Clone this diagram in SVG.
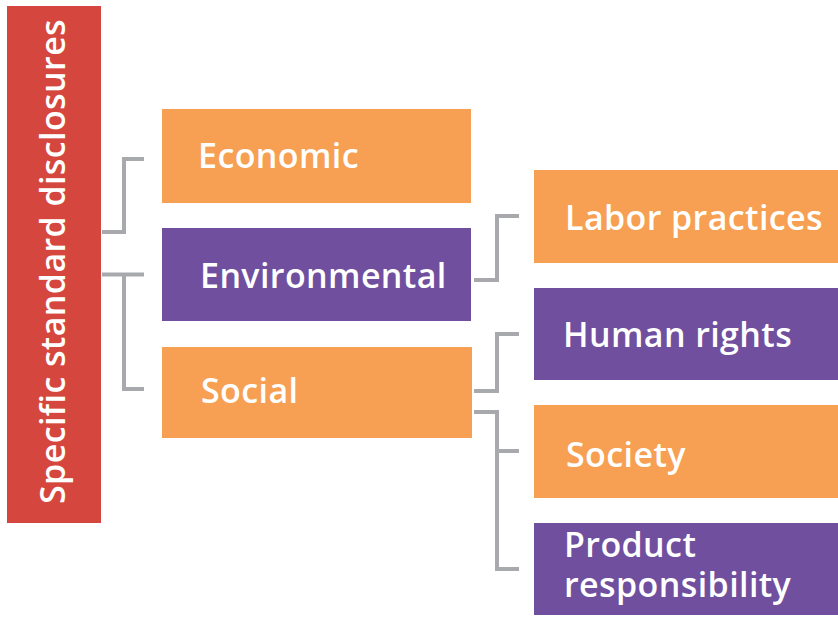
<svg xmlns="http://www.w3.org/2000/svg" width="838" height="617" viewBox="0 0 838 617">
<style>
.t{font-family:"Open Sans","Liberation Sans",sans-serif;font-weight:600;font-size:34px;letter-spacing:0.4px;fill:#ffffff}
.o{fill:#f79f53}
.p{fill:#704f9f}
.r{fill:#d5473e}
.c{fill:none;stroke:#a7a9ac;stroke-width:4}
</style>
<rect width="838" height="617" fill="#ffffff"/>
<g id="root">
<rect class="r" x="7" y="6" width="94" height="517"/>
<text class="t" transform="translate(65,504) rotate(-90)">Specific standard disclosures</text>
</g>
<g id="economic">
<rect class="o" x="162" y="109" width="309" height="94"/>
<text class="t" x="198" y="168">Economic</text>
</g>
<g id="environmental">
<rect class="p" x="162" y="228" width="309" height="93"/>
<text class="t" x="200" y="288">Environmental</text>
</g>
<g id="social">
<rect class="o" x="162" y="347" width="310" height="91"/>
<text class="t" x="201" y="403">Social</text>
</g>
<g id="labor">
<rect class="o" x="534" y="170" width="304" height="93"/>
<text class="t" x="565" y="230">Labor practices</text>
</g>
<g id="human">
<rect class="p" x="534" y="288" width="304" height="92"/>
<text class="t" x="563" y="347">Human rights</text>
</g>
<g id="society">
<rect class="o" x="534" y="405" width="304" height="93"/>
<text class="t" x="566" y="467">Society</text>
</g>
<g id="product">
<rect class="p" x="534" y="523" width="304" height="92"/>
<text class="t"><tspan x="564" y="557">Product</tspan><tspan x="564" y="597">responsibility</tspan></text>
</g>
<g id="connectors">
<polyline class="c" points="102,232 124,232 124,159 144,159"/>
<polyline class="c" points="102,274.5 144,274.5"/>
<polyline class="c" points="124,274.5 124,389 144,389"/>
<polyline class="c" points="474,280 497,280 497,216 519,216"/>
<polyline class="c" points="474,391 497,391 497,334 519,334"/>
<polyline class="c" points="474,412 497,412 497,569 519,569"/>
<polyline class="c" points="497,451 519,451"/>
</g>
</svg>
